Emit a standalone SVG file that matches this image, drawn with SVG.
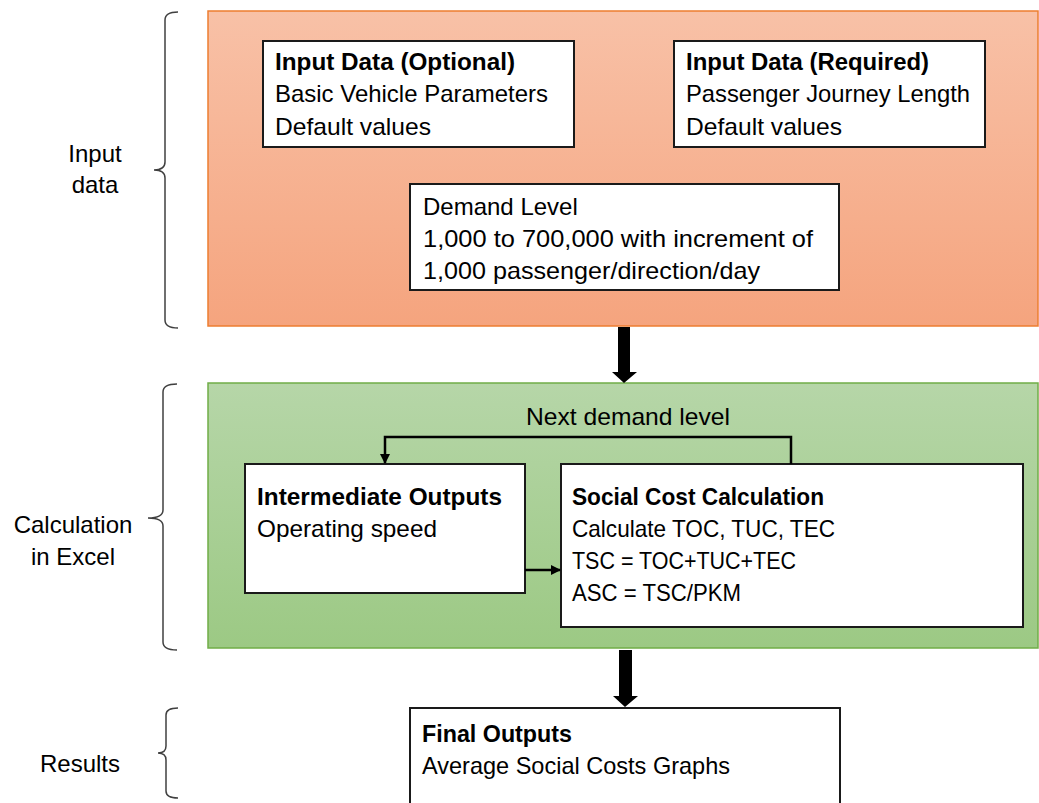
<svg xmlns="http://www.w3.org/2000/svg" width="1039" height="803" viewBox="0 0 1039 803">
<defs>
<linearGradient id="gOrange" x1="0" y1="0" x2="0" y2="1">
<stop offset="0" stop-color="#F8C1A7"/>
<stop offset="1" stop-color="#F5A47E"/>
</linearGradient>
<linearGradient id="gGreen" x1="0" y1="0" x2="0" y2="1">
<stop offset="0" stop-color="#B6D6A8"/>
<stop offset="1" stop-color="#9CC984"/>
</linearGradient>
<marker id="ah" markerWidth="10" markerHeight="10" refX="9" refY="5" orient="auto" markerUnits="userSpaceOnUse">
<path d="M0,0 L10,5 L0,10 Z" fill="#000"/>
</marker>
</defs>
<style>
text{font-family:"Liberation Sans",Arial,sans-serif;font-size:24px;fill:#000}
.b{font-weight:bold}
.box{fill:#fff;stroke:#1a1a1a;stroke-width:2}
.brace{fill:none;stroke:#404040;stroke-width:1.5}
.ln{fill:none;stroke:#000;stroke-width:2.5}
.big{fill:#000}
</style>

<g id="panel-input">
<rect x="208" y="11" width="830" height="315" fill="url(#gOrange)" stroke="#ED7D31" stroke-width="1.5"/>
</g>
<g id="panel-calc">
<rect x="208" y="383" width="830" height="265" fill="url(#gGreen)" stroke="#70AD47" stroke-width="1.5"/>
</g>

<g id="label-input">
<path class="brace" d="M178,12 Q165,12 165,20 L165,162 Q165,170 154,170 Q165,170 165,178 L165,320 Q165,328 178,328"/>
<text x="95" y="162" text-anchor="middle">Input</text>
<text x="95" y="193" text-anchor="middle">data</text>
</g>
<g id="label-calc">
<path class="brace" d="M177,384 Q163,384 163,392 L163,510 Q163,518 148,518 Q163,518 163,526 L163,642 Q163,650 177,650"/>
<text x="73" y="533" text-anchor="middle">Calculation</text>
<text x="73" y="565" text-anchor="middle">in Excel</text>
</g>
<g id="label-results">
<path class="brace" d="M178,708 Q166,708 166,715 L166,746 Q166,753 158,753 Q166,753 166,760 L166,791 Q166,798 178,798"/>
<text x="80" y="772" text-anchor="middle">Results</text>
</g>

<g id="node-optional">
<rect class="box" x="263" y="41" width="311" height="106"/>
<text class="b" x="275" y="70" textLength="240" lengthAdjust="spacingAndGlyphs">Input Data (Optional)</text>
<text x="275" y="102" textLength="273" lengthAdjust="spacingAndGlyphs">Basic Vehicle Parameters</text>
<text x="275" y="135" textLength="156" lengthAdjust="spacingAndGlyphs">Default values</text>
</g>
<g id="node-required">
<rect class="box" x="674" y="41" width="311" height="106"/>
<text class="b" x="686" y="70" textLength="243" lengthAdjust="spacingAndGlyphs">Input Data (Required)</text>
<text x="686" y="102" textLength="284" lengthAdjust="spacingAndGlyphs">Passenger Journey Length</text>
<text x="686" y="135" textLength="156" lengthAdjust="spacingAndGlyphs">Default values</text>
</g>
<g id="node-demand">
<rect class="box" x="410" y="184" width="429" height="106"/>
<text x="423" y="215">Demand Level</text>
<text x="423" y="247" textLength="390" lengthAdjust="spacingAndGlyphs">1,000 to 700,000 with increment of</text>
<text x="423" y="279" textLength="337" lengthAdjust="spacingAndGlyphs">1,000 passenger/direction/day</text>
</g>
<g id="node-intermediate">
<rect class="box" x="245" y="464" width="280" height="129"/>
<text class="b" x="257" y="505" textLength="245" lengthAdjust="spacingAndGlyphs">Intermediate Outputs</text>
<text x="257" y="537" textLength="180" lengthAdjust="spacingAndGlyphs">Operating speed</text>
</g>
<g id="node-social">
<rect class="box" x="561" y="464" width="462" height="163"/>
<text class="b" x="572" y="505" textLength="252" lengthAdjust="spacingAndGlyphs">Social Cost Calculation</text>
<text x="572" y="537" textLength="263" lengthAdjust="spacingAndGlyphs">Calculate TOC, TUC, TEC</text>
<text x="572" y="569" textLength="224" lengthAdjust="spacingAndGlyphs">TSC = TOC+TUC+TEC</text>
<text x="572" y="601" textLength="169" lengthAdjust="spacingAndGlyphs">ASC = TSC/PKM</text>
</g>
<g id="node-final">
<rect class="box" x="410" y="708" width="430" height="110"/>
<text class="b" x="422" y="742" textLength="150" lengthAdjust="spacingAndGlyphs">Final Outputs</text>
<text x="422" y="774" textLength="308" lengthAdjust="spacingAndGlyphs">Average Social Costs Graphs</text>
</g>

<g id="connectors">
<path class="big" d="M618,327 L630,327 L630,372 L637,372 L624,383 L612,372 L618,372 Z"/>
<path class="big" d="M619,650 L632,650 L632,696 L638,696 L625,707 L613,696 L619,696 Z"/>
<path class="ln" d="M791,464 L791,437 L385,437 L385,463" marker-end="url(#ah)"/>
<path class="ln" d="M525,570 L560,570" marker-end="url(#ah)"/>
<text x="628" y="425" text-anchor="middle" textLength="204" lengthAdjust="spacingAndGlyphs">Next demand level</text>
</g>
</svg>
